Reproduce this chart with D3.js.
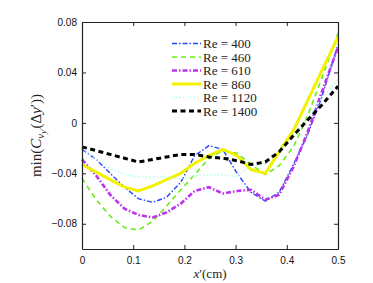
<!DOCTYPE html>
<html>
<head>
<meta charset="utf-8">
<script src="https://cdn.jsdelivr.net/npm/d3@7/dist/d3.min.js"></script>
<style>
body { margin: 0; background: #fff; }
svg { display: block; }
</style>
</head>
<body>
<svg id="chart" width="373" height="283"></svg>
<script>
// x' positions (cm) shared by all curves
var xPos = [0, 0.028, 0.055, 0.083, 0.11, 0.138, 0.165, 0.193, 0.22, 0.248,
            0.275, 0.303, 0.33, 0.358, 0.385, 0.413, 0.44, 0.468, 0.5];

var re400  = [-0.021, -0.029, -0.040, -0.051, -0.060, -0.063, -0.059, -0.047, -0.026, -0.018,
              -0.021, -0.040, -0.055, -0.062, -0.055, -0.033, -0.010, 0.020, 0.062];
var re460  = [-0.044, -0.061, -0.074, -0.083, -0.085, -0.078, -0.066, -0.053, -0.041, -0.028,
              -0.022, -0.024, -0.033, -0.041, -0.034, -0.019, 0.005, 0.035, 0.071];
var re610  = [-0.029, -0.042, -0.057, -0.068, -0.073, -0.075, -0.071, -0.064, -0.054, -0.051,
              -0.056, -0.054, -0.053, -0.061, -0.057, -0.035, -0.008, 0.024, 0.060];
var re860  = [-0.033, -0.039, -0.045, -0.051, -0.054, -0.050, -0.045, -0.040, -0.032, -0.026,
              -0.021, -0.026, -0.037, -0.040, -0.023, -0.006, 0.017, 0.041, 0.068];
var re1120 = [-0.020, -0.029, -0.036, -0.041, -0.043, -0.043, -0.043, -0.044, -0.042, -0.041,
              -0.041, -0.043, -0.034, -0.033, -0.022, -0.010, 0.004, 0.019, 0.035];
var re1400 = [-0.019, -0.022, -0.025, -0.028, -0.031, -0.029, -0.027, -0.025, -0.025, -0.027,
              -0.028, -0.030, -0.033, -0.031, -0.023, -0.010, 0.002, 0.014, 0.029];

var legendLabels = ["Re = 400", "Re = 460", "Re = 610", "Re = 860", "Re = 1120", "Re = 1400"];
var xTicks = [0, 0.1, 0.2, 0.3, 0.4, 0.5];
var yTicks = [-0.08, -0.04, 0, 0.04, 0.08];
var yTickLabels = ["\u22120.08", "\u22120.04", "0", "0.04", "0.08"];

var series = [
    {vals: re400,  color: "#2244ff", width: 1.4, dash: "5,2,1.5,2"},
    {vals: re460,  color: "#66ee11", width: 1.6, dash: "5,4"},
    {vals: re610,  color: "#bb33ee", width: 2.6, dash: "5,2,1.5,2"},
    {vals: re860,  color: "#f2f200", width: 3,   dash: null},
    {vals: re1120, color: "#aaffee", width: 1.6, dash: "1.2,2.4"},
    {vals: re1400, color: "#000000", width: 3,   dash: "5,3.5"}
];

var pLeft = 82, pRight = 338, pTop = 22, pBottom = 249;

var svg = d3.select("#chart");

var x = d3.scaleLinear().domain([0, 0.5]).range([pLeft, pRight]);
var y = d3.scaleLinear().domain([-0.1, 0.08]).range([pBottom, pTop]);

var plot = svg.append("g");

var line = d3.line()
    .x(function(d, i) { return x(xPos[i]); })
    .y(function(d) { return y(d); });

series.forEach(function(s) {
    plot.append("path")
        .attr("d", line(s.vals))
        .attr("fill", "none")
        .attr("stroke", s.color)
        .attr("stroke-width", s.width)
        .attr("stroke-dasharray", s.dash)
        .attr("stroke-linejoin", "miter");
});

// axes (ticks inside, box)
var axisB = d3.axisBottom(x).tickValues(xTicks).tickSizeInner(-4).tickSizeOuter(0)
    .tickFormat(function(d) { return d === 0 ? "0" : d3.format(".1f")(d); });
var axisT = d3.axisTop(x).tickValues(xTicks).tickSizeInner(-4).tickSizeOuter(0).tickFormat("");
var axisL = d3.axisLeft(y).tickValues(yTicks).tickSizeInner(-4).tickSizeOuter(0)
    .tickFormat(function(d, i) { return yTickLabels[i]; });
var axisR = d3.axisRight(y).tickValues(yTicks).tickSizeInner(-4).tickSizeOuter(0).tickFormat("");

var gB = svg.append("g").attr("transform", "translate(0," + pBottom + ")").call(axisB);
var gT = svg.append("g").attr("transform", "translate(0," + pTop + ")").call(axisT);
var gL = svg.append("g").attr("transform", "translate(" + pLeft + ",0)").call(axisL);
var gR = svg.append("g").attr("transform", "translate(" + pRight + ",0)").call(axisR);

[gB, gT, gL, gR].forEach(function(g) {
    g.select(".domain").attr("stroke", "#222").attr("stroke-width", 1.2);
    g.selectAll(".tick line").attr("stroke", "#222");
    g.selectAll("text")
        .attr("font-family", "Liberation Sans, Arial, sans-serif")
        .attr("font-size", 10)
        .attr("fill", "#111");
});
gB.selectAll("text").attr("y", 8);
gL.selectAll("text").attr("x", -5);

// legend
var legend = svg.append("g");
var legX = 172, legY = 43.5, legStep = 13.5;
series.forEach(function(s, i) {
    var ly = legY + i * legStep;
    legend.append("line")
        .attr("x1", legX).attr("x2", legX + 29)
        .attr("y1", ly).attr("y2", ly)
        .attr("stroke", s.color)
        .attr("stroke-width", s.width)
        .attr("stroke-dasharray", s.dash);
    legend.append("text")
        .attr("x", legX + 31).attr("y", ly + 4.5)
        .attr("font-family", "Liberation Serif, serif")
        .attr("font-size", 13)
        .attr("fill", "#222")
        .text(legendLabels[i]);
});

// x label
var xl = svg.append("text")
    .attr("x", (pLeft + pRight) / 2).attr("y", 278)
    .attr("text-anchor", "middle")
    .attr("font-family", "Liberation Serif, serif")
    .attr("font-size", 13)
    .attr("fill", "#222");
xl.append("tspan").attr("font-style", "italic").text("x");
xl.append("tspan").text("\u2032(cm)");

// y label
var yl = svg.append("text")
    .attr("transform", "translate(41," + ((pTop + pBottom) / 2) + ") rotate(-90)")
    .attr("text-anchor", "middle")
    .attr("font-family", "Liberation Serif, serif")
    .attr("font-size", 15)
    .attr("fill", "#222");
yl.append("tspan").text("min(");
yl.append("tspan").attr("font-style", "italic").text("C");
yl.append("tspan").attr("font-style", "italic").attr("font-size", 11).attr("dy", 3).text("v");
yl.append("tspan").attr("font-style", "italic").attr("font-size", 8).attr("dy", 2).text("y\u2032");
yl.append("tspan").attr("dy", -5).text("(\u0394");
yl.append("tspan").attr("font-style", "italic").text("y");
yl.append("tspan").text("\u2032))");
</script>
</body>
</html>
